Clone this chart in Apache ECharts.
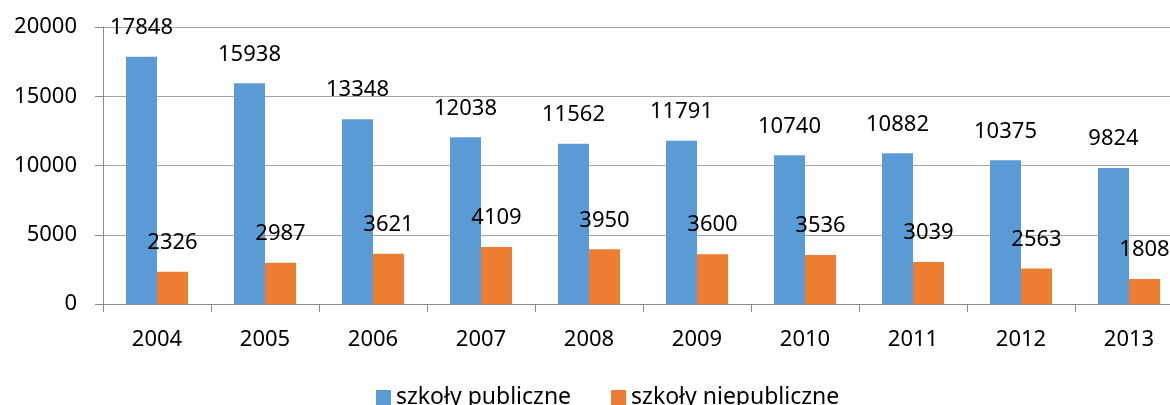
<!DOCTYPE html>
<html>
<head>
<meta charset="utf-8">
<script src="https://cdn.jsdelivr.net/npm/echarts@6/dist/echarts.min.js"></script>
<style>
html,body{margin:0;padding:0;background:#fff;}
#chart{width:1170px;height:405px;}
</style>
</head>
<body>
<div id="chart"></div>
<script>
// Liczba szkół w latach 2004–2013
const years = ['2004','2005','2006','2007','2008','2009','2010','2011','2012','2013'];
const publiczne = [17848,15938,13348,12038,11562,11791,10740,10882,10375,9824];
const niepubliczne = [2326,2987,3621,4109,3950,3600,3536,3039,2563,1808];
const seriesNames = ['szkoły publiczne','szkoły niepubliczne'];

const FONT = '"Noto Sans", "Open Sans", sans-serif';
const chart = echarts.init(document.getElementById('chart'));

const labelStyle = {
  show: true,
  position: 'top',
  distance: 18,
  color: '#000',
  fontSize: 22,
  fontFamily: FONT
};

chart.setOption({
  animation: false,
  textStyle: { fontFamily: FONT },
  // the plot runs slightly past the right edge of the canvas
  grid: { left: 103, top: 27, width: 1080, height: 277,
          containLabel: false, outerBoundsMode: 'none' },
  legend: {
    data: seriesNames,
    top: 381,
    left: 371,
    itemWidth: 15,
    itemHeight: 15,
    itemGap: 40,
    icon: 'rect',
    textStyle: { fontSize: 23, color: '#000', fontFamily: FONT }
  },
  xAxis: {
    type: 'category',
    data: years,
    axisLine: { lineStyle: { color: '#8c8c8c', width: 1 } },
    axisTick: { show: true, length: 8, lineStyle: { color: '#8c8c8c' } },
    axisLabel: { color: '#000', fontSize: 22, margin: 25, fontFamily: FONT }
  },
  yAxis: {
    type: 'value',
    min: 0,
    max: 20000,
    interval: 5000,
    axisLine: { show: true, lineStyle: { color: '#8c8c8c', width: 1 } },
    axisTick: { show: true, length: 8, lineStyle: { color: '#8c8c8c' } },
    axisLabel: { color: '#000', fontSize: 22, margin: 26, fontFamily: FONT,
                 formatter: v => String(v) },
    splitLine: { lineStyle: { color: '#a6a6a6', width: 1 } }
  },
  series: [
    {
      name: seriesNames[0],
      type: 'bar',
      data: publiczne,
      barWidth: 31,
      barGap: '0%',
      itemStyle: { color: '#5b9bd5' },
      label: labelStyle
    },
    {
      name: seriesNames[1],
      type: 'bar',
      data: niepubliczne,
      barWidth: 31,
      barGap: '0%',
      itemStyle: { color: '#ed7d31' },
      label: labelStyle
    }
  ]
});
</script>
</body>
</html>
